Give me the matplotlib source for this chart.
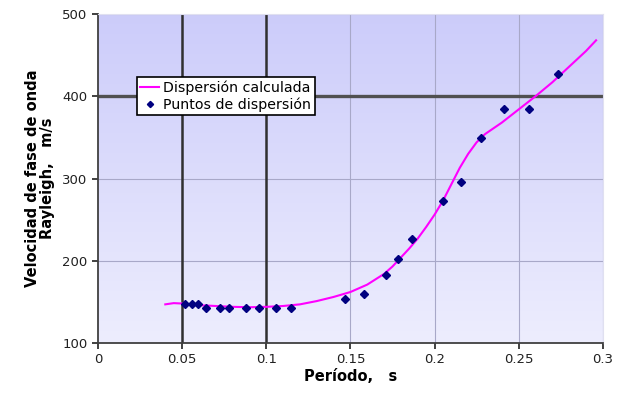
import numpy as np
import matplotlib
matplotlib.use("Agg")
from matplotlib import pyplot as plt

# measured dispersion points
periodo_pts = [0.0517, 0.0556, 0.0596, 0.0642, 0.0725, 0.078, 0.0879, 0.0958, 0.1057, 0.1145,
               0.1467, 0.158, 0.171, 0.1784, 0.1867, 0.2051, 0.2158, 0.2279, 0.2412, 0.256, 0.2731]
velocidad_pts = [147, 147, 147, 142.5, 142.5, 142.5, 142.5, 142.5, 142.5, 142.5,
                 153.5, 159.6, 182.7, 201.7, 226, 273, 296, 349.6, 384.5, 384.5, 427.4]

# calculated dispersion curve
periodo_curva = [0.040, 0.045, 0.05, 0.06, 0.07, 0.08, 0.09, 0.10, 0.11, 0.12, 0.13, 0.14, 0.15,
                 0.16, 0.17, 0.175, 0.18, 0.185, 0.19, 0.195, 0.20, 0.205, 0.21, 0.215, 0.22,
                 0.225, 0.23, 0.235, 0.24, 0.25, 0.26, 0.27, 0.28, 0.29, 0.296]
velocidad_curva = [147, 148.5, 148, 146, 145, 144, 143.5, 144, 145, 147, 151, 156, 162,
                   171, 184, 193, 204, 215, 227, 241, 256, 273, 293, 313, 330,
                   344, 354, 361, 368, 384, 400, 417, 436, 455, 468]

xticks = [0, 0.05, 0.1, 0.15, 0.2, 0.25, 0.3]
xtick_labels = ['0', '0.05', '0.1', '0.15', '0.2', '0.25', '0.3']
yticks = [100, 200, 300, 400, 500]

fig = plt.figure(figsize=(6.17, 3.96), dpi=100)
ax = fig.add_axes([0.1588, 0.1338, 0.8182, 0.8308])

# gradient background
top = np.array([0.80, 0.80, 0.98])
bot = np.array([0.93, 0.93, 0.995])
t = np.linspace(0, 1, 256)[:, None]
grad = (top * (1 - t) + bot * t)[:, None, :]
ax.imshow(grad, extent=[0, 1, 0, 1], transform=ax.transAxes, aspect='auto', zorder=0)

ax.set_xlim(0, 0.3)
ax.set_ylim(100, 500)
ax.set_xticks(xticks)
ax.set_xticklabels(xtick_labels)
ax.set_yticks(yticks)

for x in xticks[1:]:
    ax.axvline(x, color='#a8a8c8', lw=0.8, zorder=1)
for y in yticks[1:]:
    ax.axhline(y, color='#a8a8c8', lw=0.8, zorder=1)

# heavy reference lines
ax.axvline(0.05, color='#303030', lw=1.8, zorder=2)
ax.axvline(0.1, color='#303030', lw=1.8, zorder=2)
ax.axhline(400, color='#505050', lw=2.4, zorder=2)

ax.plot(periodo_curva, velocidad_curva, color='#ff00ff', lw=1.5, zorder=3,
        label='Dispersión calculada')
ax.plot(periodo_pts, velocidad_pts, linestyle='none', marker='D', ms=4.5,
        color='#000080', zorder=4, label='Puntos de dispersión')

for s in ['top', 'right']:
    ax.spines[s].set_color('#e0e0f0')
for s in ['left', 'bottom']:
    ax.spines[s].set_color('#404040')
    ax.spines[s].set_linewidth(1.3)

ax.tick_params(direction='out', length=4, width=1.2, labelsize=9.5, colors='#202020')

ax.set_xlabel('Período,   s', fontsize=10.5, fontweight='bold', labelpad=2)
ax.set_ylabel('Velocidad de fase de onda\nRayleigh,   m/s', fontsize=10.5, fontweight='bold',
              labelpad=5, linespacing=1.0)

leg = ax.legend(loc='upper left', bbox_to_anchor=(0.077, 0.808), fontsize=10.2,
                fancybox=False, framealpha=1, edgecolor='black', borderpad=0.25,
                handlelength=1.3, handletextpad=0.3, labelspacing=0.15, borderaxespad=0,
                markerscale=0.7)
leg.get_frame().set_linewidth(1.2)

fig.savefig('out.png', dpi=100)
